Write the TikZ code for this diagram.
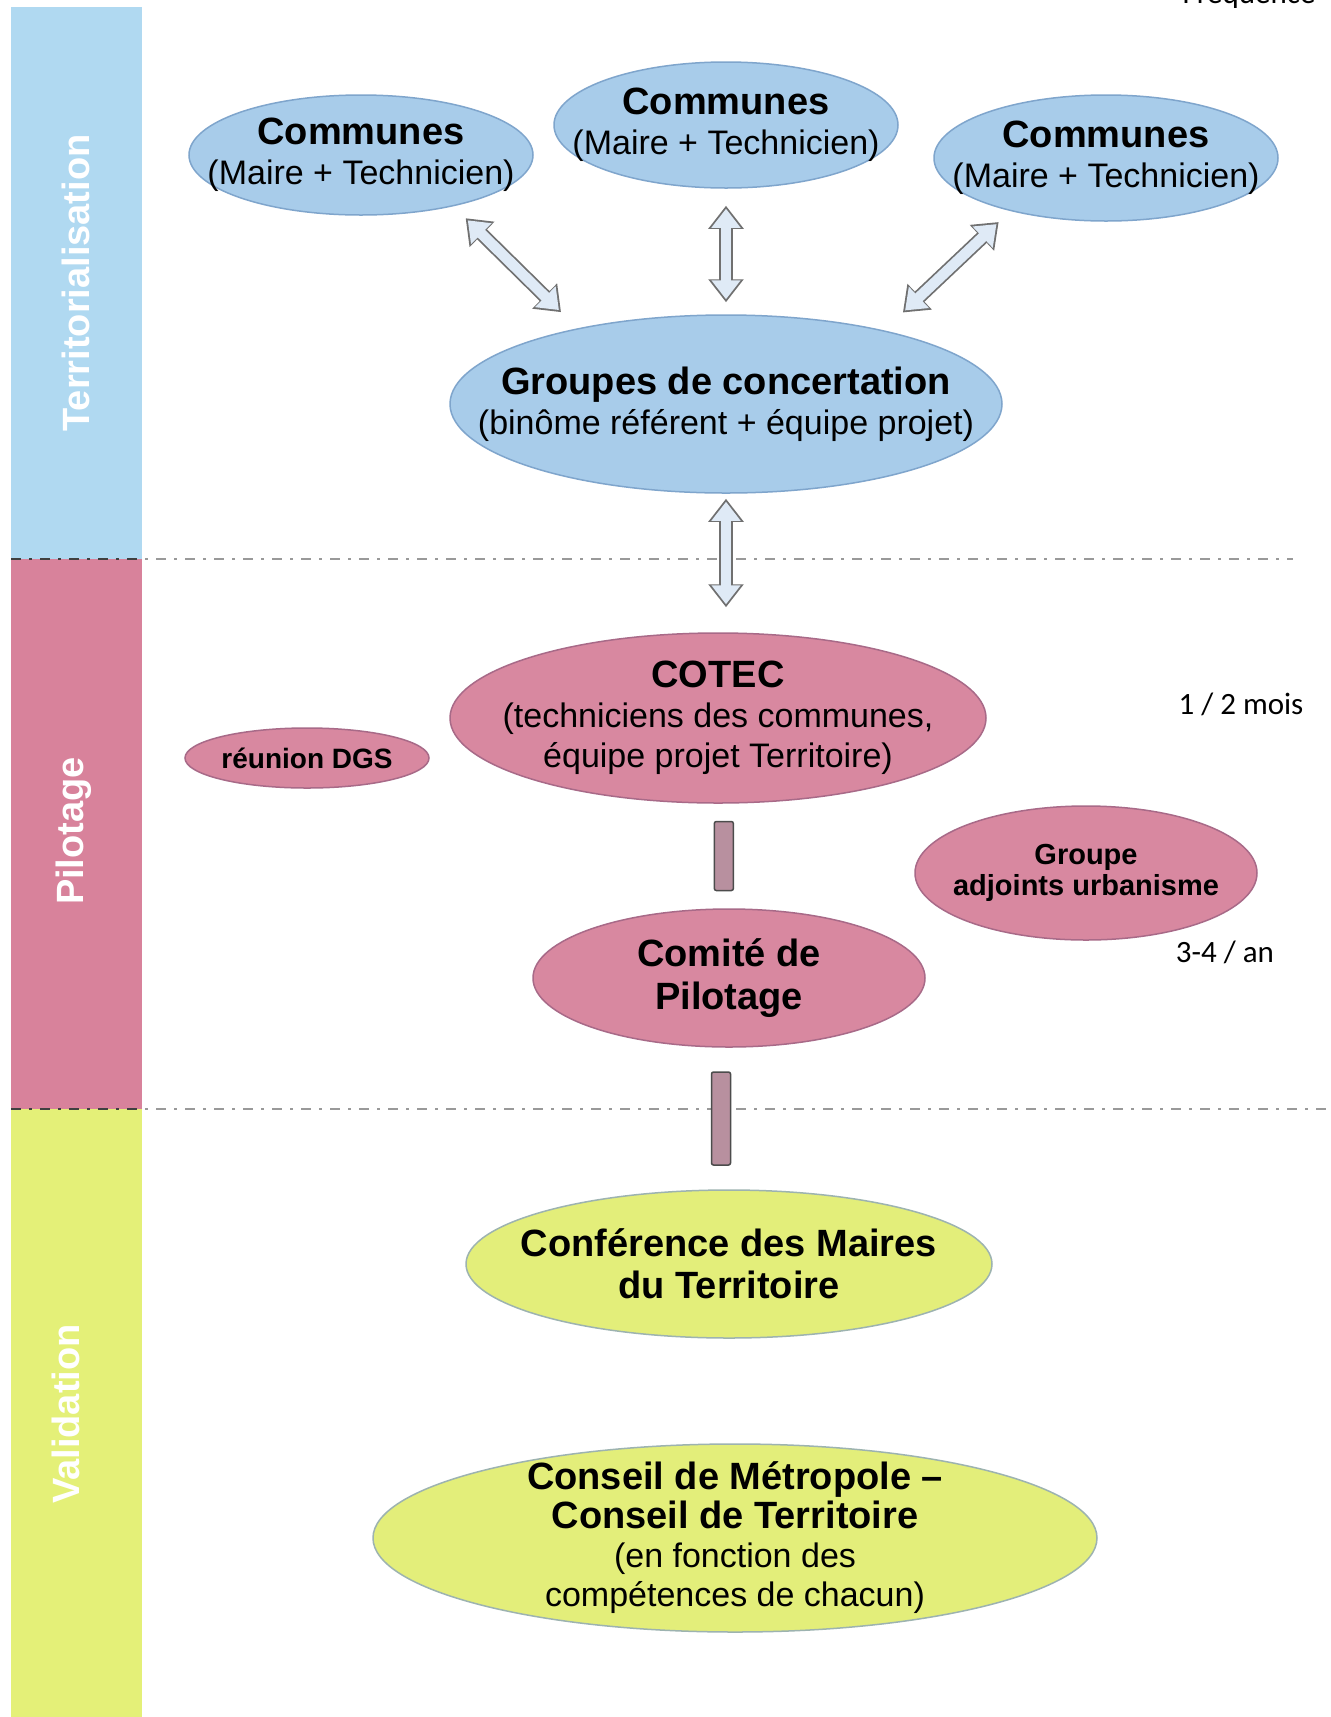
\documentclass[tikz,border=0pt]{standalone}
\usepackage{fontspec}
\setmainfont{Liberation Sans}
\newfontfamily\calibri{Carlito}
\usetikzlibrary{shapes,arrows.meta}

\definecolor{bandblue}{HTML}{B0D9F1}
\definecolor{bandpink}{HTML}{D8829B}
\definecolor{bandyellow}{HTML}{E4F078}
\definecolor{fillblue}{HTML}{A8CCEA}
\definecolor{edgeblue}{HTML}{7FA5CC}
\definecolor{fillpink}{HTML}{D888A0}
\definecolor{edgepink}{HTML}{A86A88}
\definecolor{fillyellow}{HTML}{E3EE7A}
\definecolor{edgeyellow}{HTML}{9DB3B0}
\definecolor{arrowfill}{HTML}{DFEAF6}
\definecolor{arrowedge}{HTML}{707070}
\definecolor{barfill}{HTML}{B8909F}

\newcommand\hd[1]{{\bfseries\fontsize{38}{40}\selectfont #1}}

\tikzstyle{blueell}=[ellipse,draw=edgeblue,fill=fillblue,line width=1.5pt,
                     inner sep=-90pt,align=center,font=\fontsize{34}{40}\selectfont]
\tikzstyle{pinkell}=[blueell,draw=edgepink,fill=fillpink]
\tikzstyle{yellowell}=[blueell,draw=edgeyellow,fill=fillyellow]
\tikzstyle{link}=[rectangle,draw=black!70,fill=barfill,line width=1.5pt,
                  rounded corners=2pt,minimum width=19pt,inner sep=0pt]
\tikzstyle{arrowback}=[color=arrowedge,line width=14pt,
  {Triangle[width=34pt,length=23pt]}-{Triangle[width=34pt,length=23pt]}]
\tikzstyle{arrowfront}=[color=arrowfill,line width=10.5pt,
  {Triangle[width=28pt,length=19pt]}-{Triangle[width=28pt,length=19pt]}]
\tikzstyle{bandlabel}=[text=white,rotate=90,font=\bfseries\fontsize{38}{40}\selectfont]
\tikzstyle{sepline}=[black!40,line width=1.5pt,dash pattern=on 10pt off 8pt on 3pt off 8pt]
\tikzstyle{freq}=[anchor=base,font=\calibri\fontsize{31}{36}\selectfont]

\begin{document}
\begin{tikzpicture}[x=1pt,y=1pt,node distance=100pt]

	\fill[white] (0,0) rectangle (1331,-1717);
	\useasboundingbox (0,0) rectangle (1331,-1717);

	% bandes
	\fill[bandblue] (11,-7) rectangle (142,-559);
	\fill[bandpink] (11,-559) rectangle (142,-1109);
	\fill[bandyellow] (11,-1109) rectangle (142,-1717);
	\node[bandlabel] (terr) at (76,-283) {Territorialisation};
	\node[bandlabel] (pil) at (74,-831) {Pilotage};
	\node[bandlabel] (valid) at (66,-1414) {Validation};

	\draw[sepline] (11,-559) -- (1293,-559);
	\draw[sepline] (11,-1109) -- (1331,-1109);
	\draw[sepline,black!75] (11,-559) -- (142,-559);
	\draw[sepline,black!75] (11,-1109) -- (142,-1109);

	% noeuds
	\node[blueell,minimum width=552pt,minimum height=178pt] (groupes) at (726,-404)
		{\hd{Groupes de concertation}\\(binôme référent + équipe projet)};
	\node[blueell,minimum width=344pt,minimum height=126pt] (comm)
		[above of=groupes,node distance=279pt] {\hd{Communes}\\(Maire + Technicien)};
	\node[blueell,minimum width=344pt,minimum height=120pt] (comg) at (361,-155)
		{\hd{Communes}\\(Maire + Technicien)};
	\node[blueell,minimum width=344pt,minimum height=126pt] (comd) at (1106,-158)
		{\hd{Communes}\\(Maire + Technicien)};

	\node[pinkell,minimum width=536pt,minimum height=170pt] (cotec)
		[below of=groupes,node distance=314pt,xshift=-8pt]
		{\hd{COTEC}\\(techniciens des communes,\\équipe projet Territoire)};
	\node[pinkell,minimum width=244pt,minimum height=60pt,
	      font=\bfseries\fontsize{28}{32}\selectfont] (dgs) at (307,-758) {réunion DGS};
	\node[pinkell,minimum width=342pt,minimum height=134pt,
	      font=\bfseries\fontsize{29}{31}\selectfont] (adjoints) at (1086,-873)
		{Groupe\\adjoints urbanisme};
	\node[pinkell,minimum width=392pt,minimum height=138pt,
	      font=\bfseries\fontsize{38}{43}\selectfont] (comite)
		[below of=cotec,node distance=260pt,xshift=11pt] {Comité de\\Pilotage};

	\node[yellowell,minimum width=526pt,minimum height=148pt,
	      font=\bfseries\fontsize{38}{42}\selectfont] (conference)
		[below of=comite,node distance=286pt] {Conférence des Maires\\du Territoire};
	\node[yellowell,minimum width=724pt,minimum height=188pt,
	      font=\fontsize{34}{39}\selectfont] (conseil)
		[below of=conference,node distance=274pt,xshift=6pt]
		{\hd{Conseil de Métropole –}\\\hd{Conseil de Territoire}\\(en fonction des\\compétences de chacun)};

	\node[freq] (mois) at (1241,-714) {1 / 2 mois};
	\node[freq] (an) at (1225,-962) {3-4 / an};
	\node[freq] (freqtop) at (1249,-3) {Fréquence};

	% fleches
	\path [arrowback] (comg.-29) edge [shorten <=17pt, shorten >=23pt] (groupes.153);
	\path [arrowfront] (comg.-29) edge [shorten <=20pt, shorten >=26pt] (groupes.153);
	\path [arrowback] (comm.south) edge [shorten <=17pt, shorten >=12pt] (groupes.north);
	\path [arrowfront] (comm.south) edge [shorten <=20pt, shorten >=15pt] (groupes.north);
	\path [arrowback] (comd.209) edge [shorten <=16pt, shorten >=26pt] (groupes.25);
	\path [arrowfront] (comd.209) edge [shorten <=19pt, shorten >=29pt] (groupes.25);
	\path [arrowback] (groupes.south) edge [shorten <=5pt, shorten >=25pt] (groupes.south |- cotec.north);
	\path [arrowfront] (groupes.south) edge [shorten <=8pt, shorten >=28pt] (groupes.south |- cotec.north);

	% liens
	\path (cotec) -- (comite) node[link,midway,minimum height=69pt] (bar1) {};
	\path (comite) -- (conference) node[link,midway,xshift=-8pt,minimum height=93pt] (bar2) {};

\end{tikzpicture}
\end{document}
